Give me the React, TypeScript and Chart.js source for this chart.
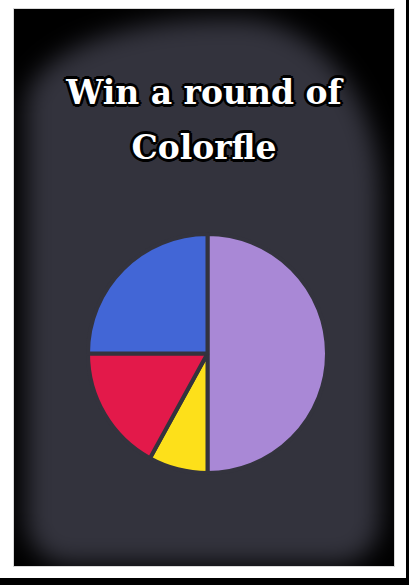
import React, { useEffect, useRef } from "react";
import { Chart, registerables } from "chart.js";

Chart.register(...registerables);

const titleLines = ["Win a round of", "Colorfle"];
const sliceLabels = ["Purple", "Yellow", "Red", "Blue"];
const sliceValues = [50, 8, 17, 25];
const sliceColors = ["#a988d6", "#fde01a", "#e3194a", "#4266d6"];
const panelColor = "#33333d";

export default function App() {
  const ref = useRef<HTMLCanvasElement | null>(null);

  useEffect(() => {
    if (!ref.current) return;
    const chart = new Chart(ref.current, {
      type: "pie",
      data: {
        labels: sliceLabels,
        datasets: [
          {
            data: sliceValues,
            backgroundColor: sliceColors,
            borderColor: panelColor,
            borderWidth: 4,
          },
        ],
      },
      options: {
        responsive: false,
        animation: false,
        layout: { padding: 0 },
        plugins: {
          legend: { display: false },
          tooltip: { enabled: false },
          title: { display: false },
        },
      },
    });
    return () => chart.destroy();
  }, []);

  const outline = [
    "2px 0 0 #000",
    "-2px 0 0 #000",
    "0 2px 0 #000",
    "0 -2px 0 #000",
    "2px 2px 0 #000",
    "-2px 2px 0 #000",
    "2px -2px 0 #000",
    "-2px -2px 0 #000",
    "3px 0 0 #000",
    "-3px 0 0 #000",
    "0 3px 0 #000",
    "0 -3px 0 #000",
  ].join(",");

  return (
    <div
      style={{
        position: "fixed",
        left: 0,
        top: 0,
        width: 409,
        height: 585,
        background: "#000",
        overflow: "hidden",
      }}
    >
      <div
        style={{
          position: "absolute",
          left: 0,
          top: 0,
          width: 406,
          height: 578,
          background: "#fff",
        }}
      />
      <div
        style={{
          position: "absolute",
          left: 14,
          top: 9,
          width: 380,
          height: 557,
          background: "#000",
          overflow: "hidden",
          boxShadow: "0 0 0 1px #d8d8d8",
        }}
      >
        <div
          style={{
            position: "absolute",
            left: 12,
            top: 10,
            width: 354,
            height: 545,
            background: panelColor,
            borderRadius: "55% 40% 12% 12% / 16% 32% 8% 8%",
            filter: "blur(12px)",
          }}
        />
        <div
          style={{
            position: "absolute",
            left: 0,
            top: 56,
            width: 380,
            textAlign: "center",
            color: "#fff",
            fontFamily: "'DejaVu Serif', serif",
            fontWeight: 700,
            fontSize: 33,
            lineHeight: "55px",
            textShadow: outline,
          }}
        >
          {titleLines.map((l, i) => (
            <div key={i}>{l}</div>
          ))}
        </div>
        <canvas
          ref={ref}
          width={243}
          height={243}
          style={{ position: "absolute", left: 72, top: 223, width: 243, height: 243 }}
        />
      </div>
    </div>
  );
}
